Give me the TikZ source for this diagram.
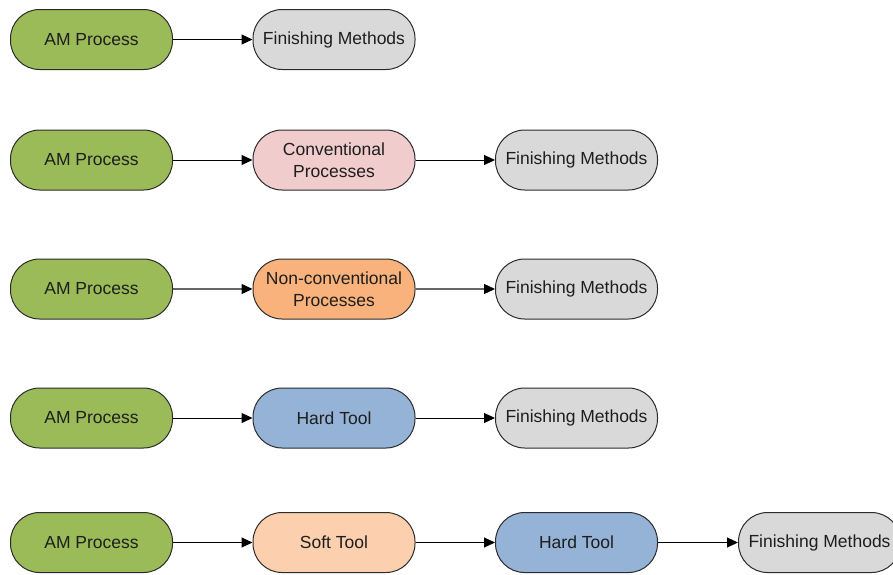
\documentclass[tikz,border=0pt]{standalone}
\usepackage{fontspec}
\setmainfont{Liberation Sans}
\usetikzlibrary{arrows.meta,positioning}
\definecolor{amgreen}{HTML}{9BBB59}
\definecolor{fingrey}{HTML}{D9D9D9}
\definecolor{convpink}{HTML}{F0CCCC}
\definecolor{nonconv}{HTML}{F9B27B}
\definecolor{hardblue}{HTML}{95B3D7}
\definecolor{softorange}{HTML}{FCD0AE}
\definecolor{edgegrey}{HTML}{2B2B2B}
\definecolor{txt}{HTML}{1E1E1E}
\tikzset{
  box/.style={draw=edgegrey, line width=1pt, rounded corners=29pt,
    minimum width=162pt, minimum height=60pt, inner sep=0pt,
    align=center, text=txt, font=\fontsize{17.5}{22}\selectfont},
  am/.style={box, fill=amgreen},
  fin/.style={box, fill=fingrey},
  conv/.style={box, fill=convpink},
  ncon/.style={box, fill=nonconv},
  hard/.style={box, fill=hardblue},
  soft/.style={box, fill=softorange},
  conn/.style={draw=black, line width=1pt, -{Triangle[length=11pt,width=10pt]}},
  gconn/.style={draw=gray!80!black, line width=1.3pt, -{Triangle[length=11pt,width=10pt,color=black,fill=black]}}
}
\begin{document}
\begin{tikzpicture}[x=1pt,y=-1pt]
\useasboundingbox (0,0) rectangle (893,574);
\clip (0,0) rectangle (893,574);
% row 1
\node[am]  (a1) at (91.5,39.5) {AM Process};
\node[fin] (f1) at (334,39.5) {Finishing Methods};
\draw[conn] (a1) -- (f1);
% row 2
\node[am]   (a2) at (91.5,160) {AM Process};
\node[conv] (c2) at (334,160) {Conventional\\Processes};
\node[fin]  (f2) at (576.5,160) {Finishing Methods};
\draw[conn] (a2) -- (c2);
\draw[conn] (c2) -- (f2);
% row 3
\node[am]   (a3) at (91.5,289) {AM Process};
\node[ncon] (n3) at (334,289) {Non-conventional\\Processes};
\node[fin]  (f3) at (576.5,289) {Finishing Methods};
\draw[gconn] (a3) -- (n3);
\draw[gconn] (n3) -- (f3);
% row 4
\node[am]   (a4) at (91.5,418) {AM Process};
\node[hard] (h4) at (334,418) {Hard Tool};
\node[fin]  (f4) at (576.5,418) {Finishing Methods};
\draw[conn] (a4) -- (h4);
\draw[conn] (h4) -- (f4);
% row 5
\node[am]   (a5) at (91.5,542.5) {AM Process};
\node[soft] (s5) at (334,542.5) {Soft Tool};
\node[hard] (h5) at (576.5,542.5) {Hard Tool};
\node[fin]  (f5) at (819.5,542.5) {Finishing Methods};
\draw[conn] (a5) -- (s5);
\draw[conn] (s5) -- (h5);
\draw[conn] (h5) -- (f5);
\end{tikzpicture}
\end{document}
